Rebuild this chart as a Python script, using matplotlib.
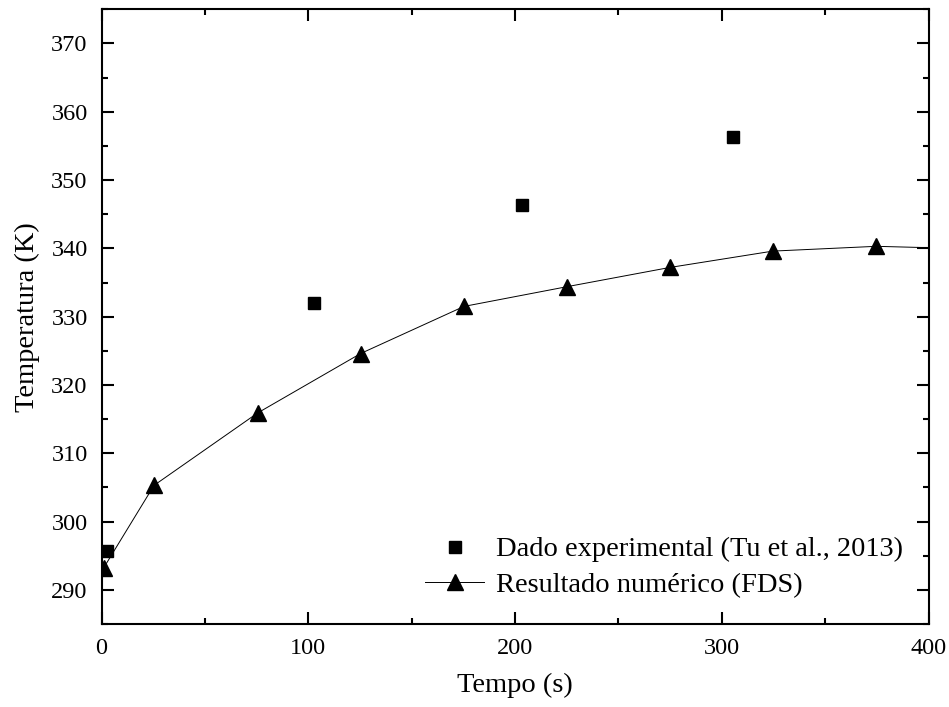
import matplotlib.pyplot as plt
from matplotlib.ticker import MultipleLocator

plt.rcParams['font.family'] = ['Liberation Serif', 'DejaVu Serif']

# dados experimentais (Tu et al., 2013)
t_exp = [2.8, 102.9, 203.6, 305.6]
T_exp = [295.7, 332.0, 346.4, 356.3]

# resultado numerico (FDS); ultimo ponto so da linha
t_fds = [1.0, 25.4, 75.5, 125.3, 175.3, 225.3, 274.8, 324.7, 374.7, 400.0]
T_fds = [293.2, 305.3, 315.9, 324.6, 331.5, 334.4, 337.2, 339.6, 340.3, 340.1]

fig = plt.figure(figsize=(9.49, 7.07), dpi=100)
ax = fig.add_axes([0.107, 0.1174, 0.8714, 0.8694])

ax.plot(t_exp, T_exp, 's', color='black', markersize=9, linestyle='none',
        label='Dado experimental (Tu et al., 2013)', zorder=3)
ax.plot(t_fds, T_fds, '-^', color='black', markersize=12, linewidth=0.7,
        markevery=list(range(len(t_fds) - 1)),
        label='Resultado numérico (FDS)', zorder=2)

ax.set_xlim(0, 400)
ax.set_ylim(285, 375)
ax.xaxis.set_major_locator(MultipleLocator(100))
ax.xaxis.set_minor_locator(MultipleLocator(50))
ax.set_yticks(range(290, 371, 10))
ax.yaxis.set_minor_locator(MultipleLocator(5))

ax.tick_params(which='both', direction='in', top=True, right=True, width=1.5)
ax.tick_params(which='major', length=8.5, labelsize=17.5, pad=10)
ax.tick_params(which='minor', length=4.5)
for s in ax.spines.values():
    s.set_linewidth(1.5)

ax.set_xlabel('Tempo (s)', fontsize=20.5, labelpad=10)
ax.set_ylabel('Temperatura (K)', fontsize=20.5, labelpad=8)

leg = ax.legend(loc='lower right', bbox_to_anchor=(1.0, 0.0), frameon=False,
                fontsize=20.5, handlelength=2.1, handletextpad=0.4,
                labelspacing=0.35)

fig.savefig('out.png', dpi=100)
